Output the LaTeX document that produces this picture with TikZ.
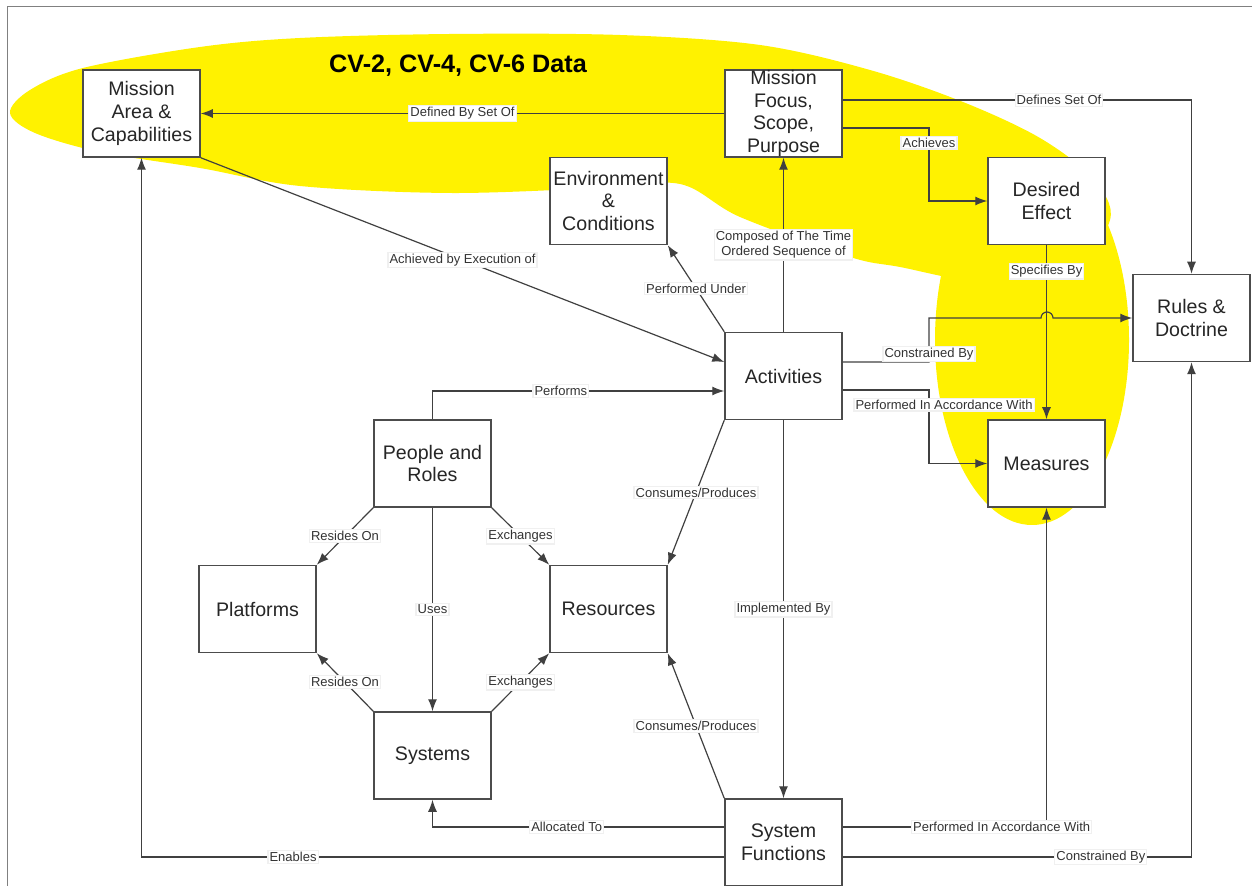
\documentclass[tikz,border=0pt]{standalone}
\usepackage{fontspec}
\setmainfont{Liberation Sans}
\usetikzlibrary{arrows.meta}

\tikzset{
  box/.style={draw=black!70, line width=0.75pt, fill=white, minimum width=58.5pt,
    minimum height=43.5pt, inner sep=0pt, align=center, text=black!85,
    font=\fontsize{9.8}{11.3}\selectfont},
  lbl/.style={fill=white, draw=black!6, inner sep=0.8pt, text=black!80, align=center,
    font=\fontsize{6.5}{7.6}\selectfont},
  link/.style={draw=black!75, line width=0.6pt, -{Latex[length=6pt,width=4.5pt]}},
}

\begin{document}
\begin{tikzpicture}[x=0.5pt, y=-0.5pt]
        \useasboundingbox (0,0) rectangle (1252,886);
        \fill[yellow] plot[smooth cycle, tension=0.55] coordinates {
          (10,113) (30,90) (83,68) (200,47) (300,38) (450,34) (620,35) (760,45)
          (870,70) (963,102) (1040,138) (1092,178) (1110,220) (1065,278) (980,282)
          (900,267) (850,257) (740,217) (680,184) (600,188) (450,193)
          (300,186) (200,168) (100,152) (35,133)};
        \fill[yellow] (1032,340) ellipse[x radius=97, y radius=185];
        \draw[gray, line width=0.5pt] (7,886) -- (7,7) -- (1252,7);
        \node[font=\fontsize{12.6}{14}\selectfont\bfseries] (title) at (458,66) {CV-2, CV-4, CV-6 Data};

        \node[box] (ma) at (141.5,113.5) {Mission\\Area \&\\Capabilities};
        \node[box] (mf) at (783.5,113.5) {Mission\\Focus,\\Scope,\\Purpose};
        \node[box] (env) at (608.5,201) {Environment\\\&\\Conditions};
        \node[box] (de) at (1046.5,201) {Desired\\Effect};
        \node[box] (rd) at (1191.5,318) {Rules \&\\Doctrine};
        \node[box] (act) at (783.5,376) {Activities};
        \node[box] (meas) at (1046.5,463.5) {Measures};
        \node[box] (pr) at (432.5,463.5) {People and\\Roles};
        \node[box] (plat) at (257.5,609) {Platforms};
        \node[box] (res) at (608.5,609) {Resources};
        \node[box] (sys) at (432.5,755.5) {Systems};
        \node[box] (sf) at (783.5,842.5) {System\\Functions};

        \draw[link] (mf.west) -- node[lbl] (ldefby) {Defined By Set Of} (ma.east);
        \draw[link] ([yshift=6.75pt]mf.east) -| node[lbl, pos=0.31] (ldefs) {Defines Set Of} (rd.north);
        \draw[link] ([yshift=-7.25pt]mf.east) -- (929,128) |- node[lbl, pos=0.1] (lach) {Achieves} (de.west);
        \draw[link] (act.north) -- node[lbl] (lcomp) {Composed of The Time\\Ordered Sequence of} (mf.south);
        \draw[link] (act.north west) -- node[lbl] (lunder) {Performed Under} (env.south east);
        \draw[link] (ma.south east) -- node[lbl] (lexec) {Achieved by Execution of} ([yshift=7pt]act.west);
        \draw[link] (de.south) -- node[lbl, pos=0.15] (lspec) {Specifies By} (meas.north);
        \draw[link] ([yshift=7pt]act.east) -- (929,362) -- node[lbl, pos=0.18] (lcons) {Constrained By} (929,318)
          -- (1041,318) arc[start angle=180, end angle=360, radius=6] -- (rd.west);
        \draw[link] ([yshift=-7pt]act.east) -- (929,390) |- node[lbl, pos=0.1, xshift=7.5pt] (lacc) {Performed In Accordance With} (meas.west);
        \draw[link] (pr.north) |- node[lbl, pos=0.72] (lperf) {Performs} ([yshift=-7.5pt]act.west);

        \draw[link] (pr.south west) -- node[lbl] (lres1) {Resides On} (plat.north east);
        \draw[link] (pr.south east) -- node[lbl] (lexch1) {Exchanges} (res.north west);
        \draw[link] (pr.south) -- node[lbl] (luses) {Uses} (sys.north);
        \draw[link] (sys.north west) -- node[lbl] (lres2) {Resides On} (plat.south east);
        \draw[link] (sys.north east) -- node[lbl] (lexch2) {Exchanges} (res.south west);
        \draw[link] (act.south west) -- node[lbl] (lcp1) {Consumes/Produces} (res.north east);
        \draw[link] (act.south) -- node[lbl] (limpl) {Implemented By} (sf.north);
        \draw[link] (sf.north west) -- node[lbl] (lcp2) {Consumes/Produces} (res.south east);

        \draw[link] ([yshift=7.75pt]sf.west) -| node[lbl, pos=0.27] (lalloc) {Allocated To} (sys.south);
        \draw[link] ([yshift=-7.25pt]sf.west) -| node[lbl, pos=0.37] (lenab) {Enables} (ma.south);
        \draw[link] ([yshift=7.75pt]sf.east) -| node[lbl, pos=0.39] (lacc2) {Performed In Accordance With} (meas.south);
        \draw[link] ([yshift=-7.25pt]sf.east) -| node[lbl, pos=0.37] (lcons2) {Constrained By} (rd.south);
\end{tikzpicture}
\end{document}
